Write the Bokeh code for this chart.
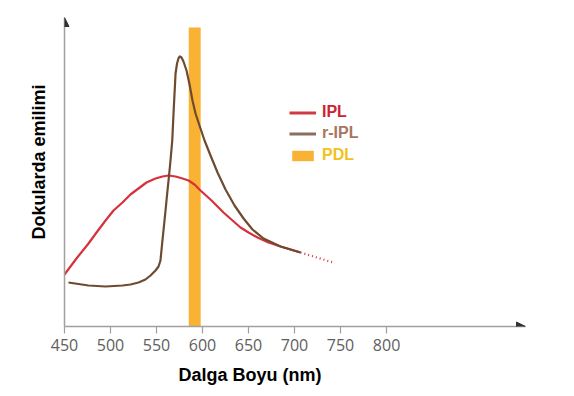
import math
from bokeh.plotting import figure
from bokeh.models import (Range1d, Legend, LegendItem, Arrow, NormalHead,
                          FixedTicker, Title)
from bokeh.embed import file_html
from bokeh.resources import INLINE

# ---- data ----
ipl_nm = [450, 463, 476.1, 484.8, 494.6, 503.3, 513, 521.7, 530.4, 539.1, 548.9,
          556.5, 563, 570.7, 578.3, 584.8, 591.3, 597.8, 609.8, 622.8, 632.6,
          641.3, 650, 659.8, 671.7, 684.8, 695.7, 706.5]
ipl_val = [52, 68, 83, 94, 106, 116, 124, 132, 138, 144, 148,
           150, 151, 150, 148, 146, 142, 136, 126, 114, 106,
           99, 94, 89, 84, 80, 77, 74]
ipl_ext_nm = [706.5, 742]
ipl_ext_val = [74, 64]

ripl_nm = [454.3, 476.1, 494.6, 513, 521.7, 530.4, 538, 543.5, 548.9, 552.2,
           554.3, 555.9, 557.9, 559.8, 561.6, 563.4, 565.2, 567.1, 568.8, 570.7,
           572.3, 574, 575.3, 577.2, 579.3, 582.6, 585.9, 589.1, 592.4, 596.7,
           602.2, 608.7, 616.3, 625, 634.8, 644.6, 654.3, 666.3, 684.8, 706.5]
ripl_val = [44, 41, 40, 41, 42, 44, 47, 51, 56, 60,
            66, 81, 99, 116, 133, 149, 166, 186, 219, 253,
            263, 268.5, 270, 269, 265, 256, 242, 226, 213, 201,
            186, 171, 154, 137, 121, 108, 97, 88, 80, 74]

pdl_band = [585, 598]
pdl_top = 299

ticks = [450, 500, 550, 600, 650, 700, 750, 800]

X_MIN, X_MAX = 450, 951
Y_MIN, Y_MAX = 0, 309

RED = "#d6323d"
BROWN = "#6e4b2f"
ORANGE = "#f9b233"

p = figure(frame_width=461, frame_height=309, output_backend="svg",
           toolbar_location=None, x_range=Range1d(X_MIN, X_MAX),
           y_range=Range1d(Y_MIN, Y_MAX),
           min_border_left=64, min_border_right=33, min_border_top=17,
           min_border_bottom=54)
p.outline_line_color = None
p.grid.visible = False
p.background_fill_color = "white"

# axes
p.xaxis.ticker = FixedTicker(ticks=ticks)
p.xaxis.axis_line_color = "#a0a0a0"
p.xaxis.axis_line_width = 1.5
p.xaxis.major_tick_line_color = "#a0a0a0"
p.xaxis.major_tick_line_width = 1.2
p.xaxis.major_tick_out = 7
p.xaxis.major_tick_in = 0
p.xaxis.minor_tick_line_color = None
p.xaxis.major_label_text_font = "Open Sans"
p.xaxis.major_label_text_font_size = "16px"
p.xaxis.major_label_text_color = "#606060"
p.xaxis.major_label_standoff = 5

p.yaxis.axis_line_color = "#a0a0a0"
p.yaxis.axis_line_width = 1.5
p.yaxis.major_tick_line_color = None
p.yaxis.minor_tick_line_color = None
p.yaxis.major_label_text_font_size = "0px"
p.yaxis.major_label_text_color = None

# arrow heads on the axes
p.add_layout(Arrow(end=NormalHead(size=9, fill_color="#333333", line_color="#333333"),
                   x_start=X_MAX - 10, y_start=Y_MIN, x_end=X_MAX, y_end=Y_MIN,
                   line_alpha=0))
p.add_layout(Arrow(end=NormalHead(size=9, fill_color="#333333", line_color="#333333"),
                   x_start=X_MIN, y_start=Y_MAX - 10, x_end=X_MIN, y_end=Y_MAX,
                   line_alpha=0))

# PDL band
p.quad(left=[pdl_band[0]], right=[pdl_band[1]], bottom=[0], top=[pdl_top],
       fill_color=ORANGE, line_color=None)

# curves
p.line(ipl_nm, ipl_val, line_color=RED, line_width=2.2, line_join="round")
p.line(ipl_ext_nm, ipl_ext_val, line_color=RED, line_width=2.2, line_dash="1 3")
p.line(ripl_nm, ripl_val, line_color=BROWN, line_width=2.2, line_join="round")

# legend-only renderers with legend colours
leg_ipl = p.line([X_MIN], [Y_MIN], line_color="#d03a46", line_width=3, visible=False)
leg_ripl = p.line([X_MIN], [Y_MIN], line_color="#8d6d5e", line_width=3, visible=False)
leg_pdl = p.quad(left=[X_MIN], right=[X_MIN], bottom=[0], top=[0],
                 fill_color=ORANGE, line_color=None, visible=False)


def make_legend(label, rend, color, loc):
    lg = Legend(items=[LegendItem(label=label, renderers=[rend])], location=loc,
                label_text_font="Liberation Sans", label_text_font_style="bold",
                label_text_font_size="16px", label_text_color=color,
                glyph_width=27, glyph_height=13, label_standoff=6,
                padding=0, margin=0, border_line_color=None,
                background_fill_alpha=0, label_height=16)
    p.add_layout(lg)


make_legend("IPL", leg_ipl, "#cc2233", (225, 205))
make_legend("r-IPL", leg_ripl, "#a8765c", (225, 184))
make_legend("PDL", leg_pdl, "#f2c11a", (225, 162))

# axis titles
p.add_layout(Title(text="Dalga Boyu (nm)", align="left", offset=114, standoff=18,
                   text_font="Liberation Sans", text_font_style="bold",
                   text_font_size="18px", text_color="black"), "below")
p.add_layout(Title(text="Dokularda emilimi", align="left", offset=87, standoff=20,
                   text_font="Liberation Sans", text_font_style="bold",
                   text_font_size="18px", text_color="black"), "left")

open("out.html", "w").write(file_html(p, INLINE))
